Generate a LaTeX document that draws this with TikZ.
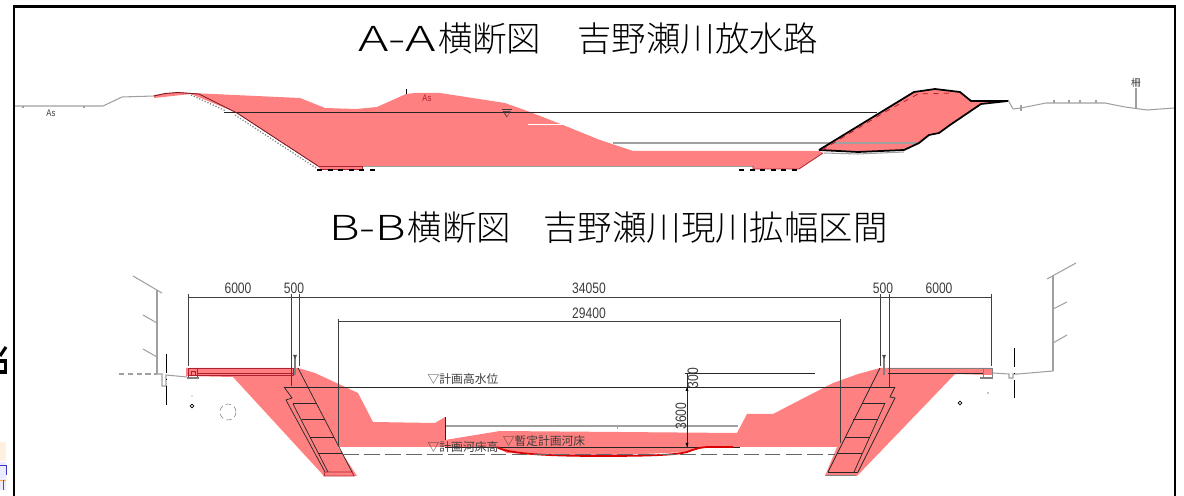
\documentclass[tikz,border=0pt]{standalone}
\usepackage{fontspec}
\setmainfont{Liberation Sans}
\newfontfamily\jpfont{Noto Sans CJK JP}
\newfontfamily\jplight{Noto Sans CJK JP Light}
\definecolor{redfill}{HTML}{FF8080}
\definecolor{darkred}{HTML}{B02030}
\definecolor{linegray}{HTML}{A0A0A0}
\definecolor{textgray}{HTML}{3C3C3C}
\newcommand{\dimnum}[1]{\scalebox{0.8}[1]{#1}}
\newcommand{\widelatin}[2]{\scalebox{#1}[1]{#2}}
\tikzset{
  titletext/.style={font=\jplight\fontsize{19.6}{24}\selectfont, inner sep=0pt, anchor=west},
  dimtext/.style={font=\fontsize{8.6}{9}\selectfont, text=textgray, inner sep=0pt},
  leveltext/.style={font=\jpfont\fontsize{6.7}{8}\selectfont, text=textgray, inner sep=0pt},
  smalltext/.style={font=\fontsize{5.5}{6}\selectfont, text=textgray, inner sep=0pt},
  ground/.style={draw=linegray, line width=0.6pt},
  thinline/.style={draw=black!85, line width=0.4pt},
  dimline/.style={draw=black!75, line width=0.55pt},
  redline/.style={draw=darkred, line width=0.45pt}
}
\begin{document}
\begin{tikzpicture}[x=0.02cm,y=-0.02cm]
\useasboundingbox (0,0) rectangle (1184,496);

% Frame
\draw [line width=1.4pt] (14,496) -- (14,6.5) -- (1175,6.5) -- (1175,496);

% Cut off pieces at the left edge
\draw [black, line width=1.8pt] (0,356) -- (6,347);
\draw [black, line width=1.8pt] (0,361) -- (5.5,361) -- (5.5,372) -- (0,372);
\fill [orange!12] (0,442) rectangle (6,461);
\fill [blue!8] (0,462) rectangle (6,490);
\draw [blue!55!gray, line width=0.5pt] (0,465) -- (6,465) -- (6,475);
\draw [orange!70, line width=0.5pt] (0,480) -- (6,480);
\draw [blue!40!gray, line width=0.5pt] (3,480) -- (3,490);

% Titles
\node [titletext] (titleA) at (358,39) {\widelatin{1.5}{A-A}\hspace{1pt}横断図};
\node [titletext] (titleAb) at (577,39) {吉野瀬川放水路};
\node [titletext] (titleB) at (329,228) {\widelatin{1.38}{B-B}\hspace{1pt}横断図};
\node [titletext] (titleBb) at (543,228) {吉野瀬川現川拡幅区間};

% Section A: ground
\draw [ground] (15,106) -- (103,106) -- (122,97) -- (154,96);
\draw [ground] (1008,100) -- (1013,109) -- (1021,108) -- (1046,103) -- (1105,103) -- (1125,107) -- (1147,110) -- (1174,108);
\foreach \x in {23,84} \draw [ground] (\x,106) -- (\x,108);
\foreach \x in {1054,1069,1080,1096} \draw [ground] (\x,100) -- (\x,103);
\draw [ground] (1136,88) -- (1136,108);
\draw [ground] (1021,105) -- (1021,111);
\node [smalltext] (asleft) at (51,113) {\dimnum{As}};
\node [smalltext] (fence) at (1136,83) {\jpfont 柵};

% Section A: red body
\fill [redfill] (154,95) -- (178,92) -- (191,93) -- (300,98) -- (325,108) -- (356,109) -- (377,107)
  -- (406,94) -- (415,93) -- (440,93) -- (505,103) -- (530,112) -- (563,125) -- (600,140) -- (633,151)
  -- (819,151) -- (823,153) -- (799,169) -- (753,169) -- (753,166) -- (362,166) -- (362,169) -- (320,169)
  -- (318,166) -- (237,113) -- (191,94) -- (154,98) -- cycle;
\fill [redfill] (819,150) -- (914,92) -- (935,89) -- (960,92) -- (971,101) -- (1008,101) -- (981,104)
  -- (950,125) -- (939,133) -- (929,135) -- (919,143) -- (904,150) -- (858,152) -- (824,151) -- cycle;

% Section A: lines
\draw [thinline, line width=0.5pt] (224,112) -- (877,112);
\draw [draw=linegray, line width=0.6pt] (613,143) -- (919,143);
\draw [draw=white, line width=0.4pt] (528,124) -- (563,124);
\draw [draw=darkred!70!black, line width=0.5pt] (154,96) -- (165,93.5) -- (178,92.5) -- (191,93.5) -- (199,94) -- (237,113) -- (318,166);
\draw [draw=linegray, line width=0.4pt] (362,166) -- (753,166);
\draw [draw=gray, line width=0.7pt, densely dotted] (191,95) -- (226,111);
\draw [draw=gray, line width=0.7pt, densely dotted] (235,115) -- (316,168);
\draw [redline] (318,166) -- (362,166) -- (362,169) -- (320,169);
\draw [redline] (753,166) -- (753,169) -- (799,169) -- (823,153);
\draw [black, line width=0.6pt, dashed] (317,170) -- (376,170);
\draw [black, line width=0.6pt, dashed] (739,170) -- (799,170);
\draw [black, line width=1pt] (819,150) -- (914,92) -- (935,89) -- (960,92) -- (971,101) -- (1008,101) -- (981,104)
  -- (950,125) -- (939,133) -- (929,135) -- (919,143) -- (904,150) -- (858,152) -- (819,150);
\draw [redline, dashed] (822,150) -- (885,112) -- (918,94) -- (954,93);
\draw [ground] (824,153) -- (858,154) -- (904,152);
\draw [black, line width=0.4pt] (406,89) -- (406,94);
\node [smalltext, text=darkred] (asright) at (427,98) {\dimnum{As}};
\node [smalltext] (waterA) at (507,113) {$\overline{\nabla}$};

% Section B: left wall
\draw [ground] (133,276) -- (162,293);
\draw [ground] (157,290) -- (157,374);
\draw [ground] (143,315) -- (157,323);
\draw [ground] (143,349) -- (157,357);
\draw [ground, densely dashed] (119,374) -- (157,374);
\draw [ground] (157,374) -- (162,374) -- (162,386) -- (166,386) -- (166,375) -- (187,377);
\draw [black, line width=0.5pt, dash pattern=on 11pt off 3pt on 1pt off 3pt] (166,354) -- (166,405);
\draw [black, line width=0.4pt] (192,406) circle (1.8);
\fill [gray] (192,396) circle (0.6);
\draw [gray, line width=0.3pt, densely dashed] (228,412) circle (8);

% Section B: right wall
\draw [ground] (1076,263) -- (1047,279);
\draw [ground] (1053,276) -- (1053,371);
\draw [ground] (1067,302) -- (1053,309);
\draw [ground] (1067,335) -- (1053,343);
\draw [ground] (1053,371) -- (1018,374) -- (1013,374) -- (1013,378) -- (1009,378) -- (1009,374) -- (993,373);
\draw [black, line width=0.5pt, dash pattern=on 11pt off 3pt on 1pt off 3pt] (1014,348) -- (1014,398);
\draw [black, line width=0.4pt] (960,403) circle (1.8);
\fill [black] (988,393) circle (0.6);

% Section B: red body
\fill [redfill] (186,368) -- (298,368) -- (315,373) -- (358,393) -- (373,422) -- (435,423) -- (445,417)
  -- (445,440) -- (500,431) -- (737,433) -- (747,414) -- (773,414) -- (800,400) -- (833,383) -- (858,374)
  -- (880,368) -- (992,368) -- (992,375) -- (955,374) -- (857,476) -- (825,476) -- (837,447) -- (733,447)
  -- (707,447) -- (687,452) -- (600,456) -- (507,453) -- (497,447) -- (338,447) -- (357,476) -- (324,476)
  -- (233,377) -- (186,376) -- cycle;

% Section B: left stairs
\draw [thinline] (298,368) -- (352,472);
\draw [thinline] (284,387) -- (292,398) -- (286,400) -- (325,472);
\draw [thinline] (293,404) -- (328,472);
\draw [thinline] (293,403) -- (317,403);
\draw [thinline] (302,419) -- (325,419);
\draw [thinline] (310,437) -- (334,437);
\draw [thinline] (318,453) -- (342,453);
\draw [redline] (325,472) -- (352,472) -- (354,476) -- (324,476) -- cycle;

% Section B: right stairs
\draw [thinline] (880,368) -- (828,472);
\draw [thinline] (895,387) -- (890,397) -- (895,398) -- (858,472);
\draw [thinline] (885,403) -- (854,472);
\draw [thinline] (862,403) -- (885,403);
\draw [thinline] (853,419) -- (878,419);
\draw [thinline] (845,437) -- (870,437);
\draw [thinline] (837,453) -- (862,453);
\draw [thinline] (828,472) -- (858,472);
\draw [draw=gray, line width=0.8pt] (825,475.5) -- (856,475.5);

% Section B: bands on top
\draw [redline] (188,368) rectangle (293,375);
\draw [redline] (197,373) -- (293,373);
\draw [redline] (188,368) rectangle (197,377);
\draw [redline] (191,371) rectangle (195,375);
\draw [draw=gray, line width=0.8pt] (187,378) -- (199,378);
\draw [draw=gray, line width=0.5pt] (888,368) -- (983,368);
\draw [thinline] (888,373) -- (983,373);
\draw [draw=gray, line width=0.5pt] (983,368) rectangle (992,377);
\draw [draw=gray, line width=0.8pt] (980,378) -- (993,378);
\draw [draw=gray, line width=1pt] (295,357) -- (295,375);
\fill [black!70] (293,355) -- (297,355) -- (295,359) -- cycle;
\draw [draw=gray, line width=1pt] (884,357) -- (884,375);
\fill [black!70] (882,355) -- (886,355) -- (884,359) -- cycle;

% Section B: water and bed lines
\draw [thinline] (284,387) -- (895,387);
\draw [ground] (445,426) -- (738,426);
\draw [draw=linegray, line width=0.4pt] (617,425) -- (617,429);
\draw [thinline] (445,447) -- (740,447);
\draw [draw=red!85!black, line width=1pt] (497,447) .. controls (505,453) and (540,456) .. (600,456)
  .. controls (650,456) and (675,455) .. (687,452) .. controls (695,449) and (700,447) .. (710,447) -- (733,447);
\draw [draw=black!60, line width=0.5pt, dash pattern=on 9pt off 3pt] (343,454) -- (835,454);
\draw [thinline] (445,417) -- (445,440);

% Section B: dimension lines
\draw [dimline] (188,297) -- (991,297);
\draw [dimline] (188,294) -- (188,366);
\draw [dimline] (291,294) -- (291,386);
\draw [dimline] (299,294) -- (299,366);
\draw [dimline] (880,294) -- (880,366);
\draw [dimline] (889,294) -- (889,387);
\draw [dimline] (991,294) -- (991,366);
\draw [dimline] (338,321) -- (840,321);
\draw [dimline] (338,319) -- (338,447);
\draw [dimline] (840,319) -- (840,443);
\draw [thinline] (685,373) -- (815,373);
\draw [thinline] (687,373) -- (687,447);
\fill [black] (687,387) -- (685.5,391) -- (688.5,391) -- cycle;
\fill [black] (687,447) -- (685.5,443) -- (688.5,443) -- cycle;

% Section B: labels
\node [dimtext] (dimA) at (238,288) {\dimnum{6000}};
\node [dimtext] (dimB) at (294,288) {\dimnum{500}};
\node [dimtext] (dimC) at (589,288) {\dimnum{34050}};
\node [dimtext] (dimD) at (589,313) {\dimnum{29400}};
\node [dimtext] (dimE) at (883,288) {\dimnum{500}};
\node [dimtext] (dimF) at (939,288) {\dimnum{6000}};
\node [dimtext, rotate=90] (dimG) at (693,378) {\dimnum{300}};
\node [dimtext, rotate=90] (dimH) at (681,416) {\dimnum{3600}};
\node [leveltext] (levelA) at (463,379) {▽計画高水位};
\node [leveltext] (levelB) at (544,441) {▽暫定計画河床};
\node [leveltext] (levelC) at (463,447) {▽計画河床高};
\end{tikzpicture}
\end{document}
